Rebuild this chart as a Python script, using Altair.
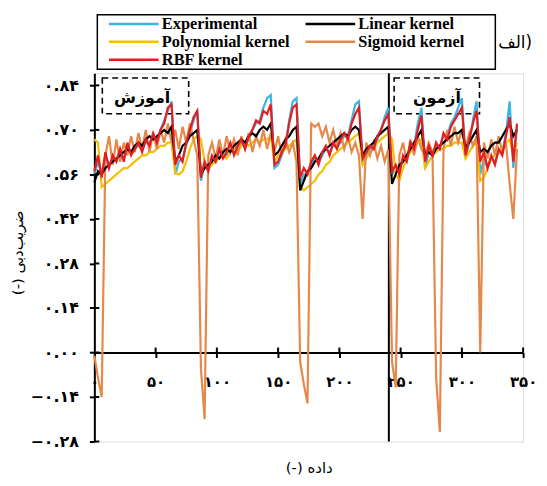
import altair as alt
import pandas as pd

# ---------------- data ----------------
x_vals = list(range(0, 346, 3))

series_names = ["Experimental", "Linear kernel", "Polynomial kernel", "Sigmoid kernel", "RBF kernel"]
series_colors = ["#3cb4e5", "#000000", "#f6c000", "#e5894a", "#e41e20"]
draw_order = ["Experimental", "Polynomial kernel", "Sigmoid kernel", "Linear kernel", "RBF kernel"]

experimental = [
    0.56, 0.60, 0.56, 0.62, 0.59, 0.61, 0.61, 0.63, 0.61, 0.65, 0.63, 0.64, 0.65, 0.64, 0.66, 0.66, 0.68, 0.67, 0.70, 0.73, 0.76, 0.79,
    0.56, 0.60, 0.61, 0.65, 0.69, 0.73, 0.76,
    0.54, 0.59, 0.57, 0.61, 0.60, 0.63, 0.62, 0.62, 0.65, 0.63, 0.64, 0.66, 0.65, 0.67, 0.70, 0.72, 0.73, 0.77, 0.80, 0.81,
    0.58, 0.59, 0.62, 0.65, 0.73, 0.79, 0.80,
    0.53, 0.56, 0.56, 0.59, 0.61, 0.60, 0.62, 0.64, 0.63, 0.65, 0.65, 0.66, 0.68, 0.68, 0.73, 0.78, 0.79,
    0.59, 0.62, 0.64, 0.65, 0.67, 0.70, 0.74, 0.77,
    0.56, 0.58, 0.57, 0.61, 0.61, 0.65, 0.65, 0.72, 0.77,
    0.58, 0.63, 0.62, 0.65, 0.65, 0.68, 0.68, 0.72, 0.74, 0.77, 0.80,
    0.61, 0.66, 0.73, 0.79,
    0.56, 0.61, 0.58, 0.61, 0.60, 0.63, 0.63, 0.69, 0.79,
    0.58, 0.71,
]
linear = [
    0.535, 0.57, 0.56, 0.58, 0.59, 0.60, 0.61, 0.62, 0.63, 0.64, 0.63, 0.65, 0.66, 0.65, 0.67, 0.68, 0.67, 0.68, 0.69, 0.70, 0.69, 0.71,
    0.60, 0.62, 0.65, 0.66, 0.68, 0.69, 0.70,
    0.56, 0.58, 0.59, 0.60, 0.62, 0.61, 0.63, 0.64, 0.63, 0.65, 0.66, 0.67, 0.66, 0.68, 0.69, 0.68, 0.70, 0.71, 0.70, 0.72,
    0.62, 0.63, 0.65, 0.67, 0.68, 0.70, 0.71,
    0.51, 0.54, 0.57, 0.58, 0.60, 0.61, 0.63, 0.64, 0.65, 0.66, 0.67, 0.68, 0.69, 0.68, 0.70, 0.71, 0.70,
    0.62, 0.64, 0.65, 0.66, 0.68, 0.69, 0.70, 0.71,
    0.53, 0.56, 0.59, 0.60, 0.62, 0.64, 0.66, 0.68, 0.70,
    0.62, 0.63, 0.62, 0.64, 0.65, 0.66, 0.67, 0.68, 0.69, 0.69, 0.70,
    0.645, 0.66, 0.68, 0.70,
    0.63, 0.64, 0.63, 0.65, 0.66, 0.66, 0.68, 0.70, 0.72,
    0.68, 0.70,
]
polynomial = [
    0.67, 0.66, 0.52, 0.53, 0.54, 0.55, 0.56, 0.57, 0.58, 0.58, 0.59, 0.60, 0.61, 0.62, 0.62, 0.63, 0.63, 0.64, 0.65, 0.65, 0.66, 0.66,
    0.565, 0.56, 0.57, 0.60, 0.64, 0.67, 0.68,
    0.67, 0.60, 0.58, 0.59, 0.60, 0.61, 0.62, 0.61, 0.63, 0.64, 0.63, 0.65, 0.66, 0.65, 0.66, 0.67, 0.66, 0.67, 0.67, 0.68,
    0.60, 0.62, 0.63, 0.64, 0.65, 0.66, 0.67,
    0.52, 0.51, 0.52, 0.53, 0.54, 0.56, 0.57, 0.59, 0.60, 0.62, 0.63, 0.64, 0.65, 0.66, 0.67, 0.68, 0.69,
    0.59, 0.61, 0.63, 0.64, 0.66, 0.67, 0.68, 0.69,
    0.67, 0.56, 0.54, 0.58, 0.61, 0.63, 0.64, 0.66, 0.67,
    0.58, 0.60, 0.62, 0.63, 0.64, 0.64, 0.65, 0.65, 0.66, 0.66, 0.66,
    0.61, 0.63, 0.65, 0.66,
    0.54, 0.55, 0.58, 0.61, 0.62, 0.63, 0.64, 0.66, 0.67,
    0.62, 0.66,
]
sigmoid = [
    -0.01, -0.08, -0.14, 0.62, 0.68, 0.59, 0.67, 0.60, 0.66, 0.62, 0.68, 0.63, 0.69, 0.64, 0.70, 0.63, 0.69, 0.64, 0.70, 0.66, 0.72, 0.66,
    0.70, 0.64, 0.71, 0.66, 0.72, 0.67, 0.62,
    -0.05, -0.21, 0.62, 0.66, 0.61, 0.67, 0.62, 0.68, 0.63, 0.67, 0.62, 0.68, 0.64, 0.69, 0.63, 0.68, 0.65, 0.70, 0.64, 0.69,
    0.63, 0.68, 0.62, 0.67, 0.63, 0.66, 0.60,
    -0.03, -0.10, -0.16, 0.72, 0.71, 0.72, 0.68, 0.71, 0.66, 0.70, 0.65, 0.69, 0.64, 0.68, 0.63, 0.66, 0.62,
    0.42, 0.66, 0.62, 0.66, 0.61, 0.65, 0.60, 0.64,
    -0.03, -0.11, 0.62, 0.66, 0.60, 0.67, 0.62, 0.68, 0.64,
    0.62, 0.66, 0.63, -0.08, -0.25, 0.64, 0.70, 0.65, 0.71, 0.66, 0.70,
    0.64, 0.69, 0.65, 0.68,
    0.00, 0.66, 0.61, 0.67, 0.62, 0.68, 0.63, 0.66, 0.53,
    0.42, 0.64,
]
rbf = [
    0.57, 0.62, 0.55, 0.63, 0.58, 0.62, 0.60, 0.64, 0.60, 0.66, 0.62, 0.64, 0.66, 0.63, 0.67, 0.65, 0.69, 0.66, 0.70, 0.72, 0.77, 0.78,
    0.59, 0.62, 0.60, 0.66, 0.70, 0.74, 0.76,
    0.55, 0.60, 0.57, 0.62, 0.60, 0.64, 0.61, 0.63, 0.66, 0.62, 0.65, 0.67, 0.64, 0.68, 0.70, 0.73, 0.72, 0.76, 0.75, 0.78,
    0.59, 0.60, 0.63, 0.65, 0.72, 0.77, 0.78,
    0.55, 0.58, 0.56, 0.60, 0.62, 0.59, 0.63, 0.65, 0.62, 0.66, 0.64, 0.67, 0.69, 0.67, 0.72, 0.75, 0.77,
    0.61, 0.63, 0.65, 0.64, 0.68, 0.70, 0.73, 0.75,
    0.57, 0.59, 0.56, 0.62, 0.60, 0.66, 0.64, 0.70, 0.745,
    0.60, 0.65, 0.62, 0.66, 0.64, 0.69, 0.67, 0.71, 0.73, 0.75, 0.77,
    0.62, 0.67, 0.72, 0.76,
    0.60, 0.63, 0.58, 0.62, 0.59, 0.64, 0.62, 0.68, 0.74,
    0.60, 0.72,
]

series_values = {
    "Experimental": experimental,
    "Linear kernel": linear,
    "Polynomial kernel": polynomial,
    "Sigmoid kernel": sigmoid,
    "RBF kernel": rbf,
}

split_x = [240.4]
x_ticks = [0, 50, 100, 150, 200, 250, 300, 350]
y_ticks = [-0.28, -0.14, 0.0, 0.14, 0.28, 0.42, 0.56, 0.70, 0.84]

box_x = [6.5, 244.7]
box_x2 = [77.0, 314.4]
box_y = [0.751, 0.751]
box_y2 = [0.863, 0.863]
box_labels = ["آموزش", "آزمون"]
box_label_x = [39.0, 279.6]
box_label_y = [0.80, 0.80]

LRM = "\u200e"
x_title = LRM + "(-) داده"
y_title = LRM + "(-) ضریب‌دبی"
panel_label = "الف)"

# ---------------- layout ----------------
W, H = 432, 371
Y_MIN, Y_MAX = -0.28, 0.878
zero_px = H * (Y_MAX - 0.0) / (Y_MAX - Y_MIN)   # pixel row of y = 0 inside the plot
x_axis_offset = -(H - zero_px)

for k, v in series_values.items():
    assert len(v) == len(x_vals), (k, len(v))

rows = []
for name in draw_order:
    for xv, yv in zip(x_vals, series_values[name]):
        rows.append({"x": xv, "y": yv, "series": name})
df = pd.DataFrame(rows)


def persian(expr):
    s = expr
    for d, f in zip("0123456789", "۰۱۲۳۴۵۶۷۸۹"):
        s = f"replace({s}, regexp('{d}', 'g'), '{f}')"
    return s


FA_FONT = "DejaVu Sans"

xs = alt.Scale(domain=[0, 350], nice=False, zero=False)
ys = alt.Scale(domain=[Y_MIN, Y_MAX], nice=False, zero=False)

x_axis = alt.Axis(
    values=x_ticks, format="d", labelExpr=persian("datum.label"),
    offset=x_axis_offset, tickSize=5, tickWidth=2, tickColor="black",
    domainColor="black", domainWidth=2, grid=False,
    labelFont=FA_FONT, labelFontWeight="bold", labelFontSize=15, labelColor="black",
    labelPadding=17, labelFlush=False, labelOverlap=False,
    title=x_title, titleFont=FA_FONT, titleFontSize=15, titleFontWeight="normal",
    titleColor="black", titleY=116, titleBaseline="middle",
)
y_axis = alt.Axis(
    values=y_ticks, format=".2f", labelExpr=persian("datum.label"),
    tickSize=5, tickWidth=2, tickColor="black",
    domainColor="black", domainWidth=2, grid=False,
    labelFont=FA_FONT, labelFontWeight="bold", labelFontSize=16, labelColor="black",
    labelPadding=11, labelOverlap=False,
    title=y_title, titleFont=FA_FONT, titleFontSize=15, titleFontWeight="normal",
    titleColor="black", titleX=-77, titleY=H / 2 - 5, titleAngle=270,
    titleBaseline="middle", titleAlign="center",
)

X = alt.X("x:Q", scale=xs, axis=x_axis)
Y = alt.Y("y:Q", scale=ys, axis=y_axis)

legend = alt.Legend(
    title=None, orient="none", legendX=10, legendY=-58, columns=2, direction="horizontal",
    symbolType="M-12.5,0H12.5", symbolSize=16, symbolStrokeWidth=2.5, symbolOffset=21.5,
    labelFont="Liberation Serif", labelFontWeight="bold", labelFontSize=16.5,
    labelColor="black", labelOffset=20, rowPadding=1, columnPadding=10, padding=0,
)
color = alt.Color("series:N", scale=alt.Scale(domain=series_names, range=series_colors), legend=legend)

layers = []
for name in draw_order:
    layers.append(
        alt.Chart(df).transform_filter(alt.datum.series == name)
        .mark_line(strokeWidth=2.2)
        .encode(x=X, y=Y, color=color)
    )

divider = alt.Chart(pd.DataFrame({"x": split_x})).mark_rule(color="black", strokeWidth=2).encode(x=X)

boxes_df = pd.DataFrame({"x": box_x, "x2": box_x2, "y": box_y, "y2": box_y2})
boxes = alt.Chart(boxes_df).mark_rect(filled=False, stroke="black", strokeWidth=1.6, strokeDash=[6, 4]).encode(
    x=X, x2="x2:Q", y=Y, y2="y2:Q"
)
box_text = alt.Chart(pd.DataFrame({"x": box_label_x, "y": box_label_y, "t": box_labels})).mark_text(
    font=FA_FONT, fontSize=16, fontWeight="bold", color="black"
).encode(x=X, y=Y, text="t:N")

xtick_in = alt.Chart(pd.DataFrame({"x": x_ticks[1:]})).mark_rule(color="black", strokeWidth=2).encode(
    x=X, y=alt.value(zero_px - 5), y2=alt.value(zero_px)
)
ytick_in = alt.Chart(pd.DataFrame({"y": y_ticks})).mark_rule(color="black", strokeWidth=2).encode(
    y=Y, x=alt.value(0), x2=alt.value(5)
)

one = pd.DataFrame({"a": [0]})
legend_box = alt.Chart(one).mark_rect(filled=False, stroke="black", strokeWidth=1.5).encode(
    x=alt.value(3), x2=alt.value(404), y=alt.value(-59), y2=alt.value(-4)
)
panel_tag = alt.Chart(one).mark_text(font=FA_FONT, fontSize=17, color="black", align="center", baseline="middle").encode(
    x=alt.value(424), y=alt.value(-30), text=alt.value(panel_label)
)

chart = alt.layer(
    divider, boxes, box_text, *layers, xtick_in, ytick_in, legend_box, panel_tag
).properties(
    width=W, height=H,
    padding={"left": 87, "top": 64, "right": 16, "bottom": 40},
    autosize=alt.AutoSizeParams(type="none"),
).configure_view(stroke="black", strokeWidth=2).configure(background="white")

chart.save("out.html", embed_options={"renderer": "svg", "actions": False})
